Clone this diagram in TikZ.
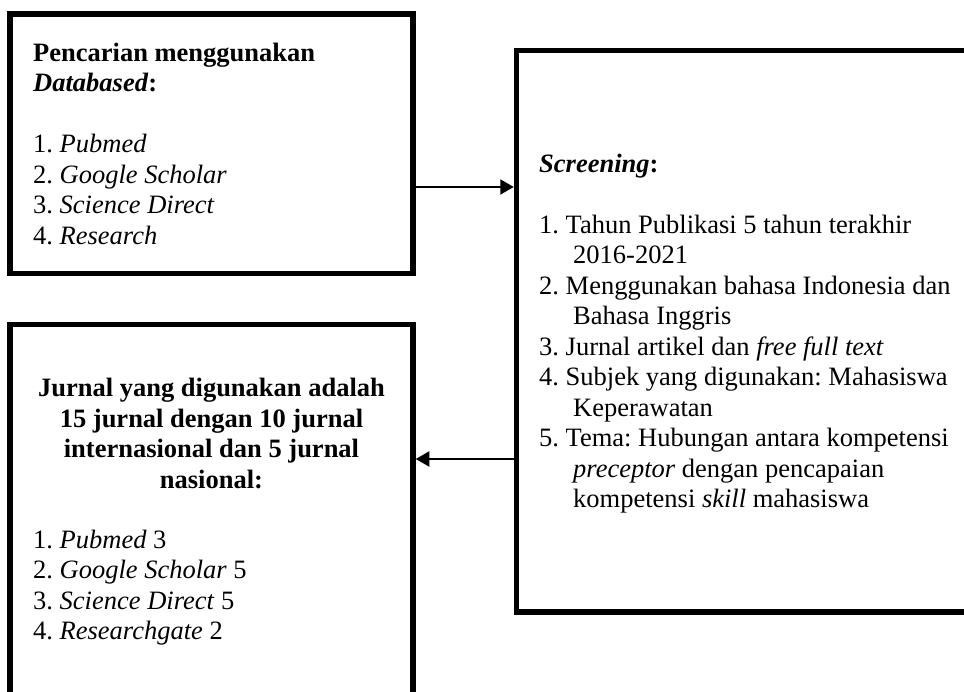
\documentclass[tikz,border=0pt]{standalone}
\usepackage{fontspec}
\setmainfont{Liberation Serif}
\usetikzlibrary{arrows.meta}
\frenchspacing
\begin{document}
\begin{tikzpicture}[x=1pt,y=-1pt,
  box/.style={draw=black, line width=5.5pt, rectangle, inner sep=0pt},
  txt/.style={inner sep=0pt, font=\fontsize{26.5}{30.5}\selectfont},
  arr/.style={draw=black, line width=2pt, -{Triangle[length=13.5pt,width=15pt]}}]
\useasboundingbox (0,0) rectangle (964,692);
\clip (0,0) rectangle (964,692);
% boxes
\node[box, minimum width=403pt, minimum height=259.5pt] (b1) at (211.5,143.75) {};
\node[box, minimum width=473.5pt, minimum height=561.5pt] (b2) at (753.25,331.25) {};
\node[box, minimum width=403pt, minimum height=395.5pt] (b3) at (211.5,522.25) {};
% texts
\node[txt, anchor=north west, align=left] (t1) at (33,39.65)
  {\strut\textbf{Pencarian menggunakan}\\
   \textbf{\textit{Databased}:}\\[30.5pt]
   1. \textit{Pubmed}\\
   2. \textit{Google Scholar}\\
   3. \textit{Science Direct}\\
   4. \textit{Research}};
\node[txt, anchor=north west, align=left] (t2) at (539,150.65)
  {\strut\textbf{\textit{Screening}:}\\[30.5pt]
   1. Tahun Publikasi 5 tahun terakhir\\
   \hspace*{34pt}2016-2021\\
   2. Menggunakan bahasa Indonesia dan\\
   \hspace*{34pt}Bahasa Inggris\\
   3. Jurnal artikel dan \textit{free full text}\\
   4. Subjek yang digunakan: Mahasiswa\\
   \hspace*{34pt}Keperawatan\\
   5. Tema: Hubungan antara kompetensi\\
   \hspace*{34pt}\textit{preceptor} dengan pencapaian\\
   \hspace*{34pt}kompetensi \textit{skill} mahasiswa};
\node[txt, anchor=north, align=center, font=\fontsize{26.5}{30.5}\selectfont\bfseries] (t3) at (211.5,375.15)
  {\strut Jurnal yang digunakan adalah\\
   15 jurnal dengan 10 jurnal\\
   internasional dan 5 jurnal\\
   nasional:};
\node[txt, anchor=north west, align=left] (t4) at (33,526.65)
  {\strut 1. \textit{Pubmed} 3\\
   2. \textit{Google Scholar} 5\\
   3. \textit{Science Direct} 5\\
   4. \textit{Researchgate} 2};
% connectors
\draw[arr] (b1.east |- 0,187) -- (b2.west |- 0,187);
\draw[arr] (b2.west |- 0,459) -- (b3.east |- 0,459);
\end{tikzpicture}
\end{document}
